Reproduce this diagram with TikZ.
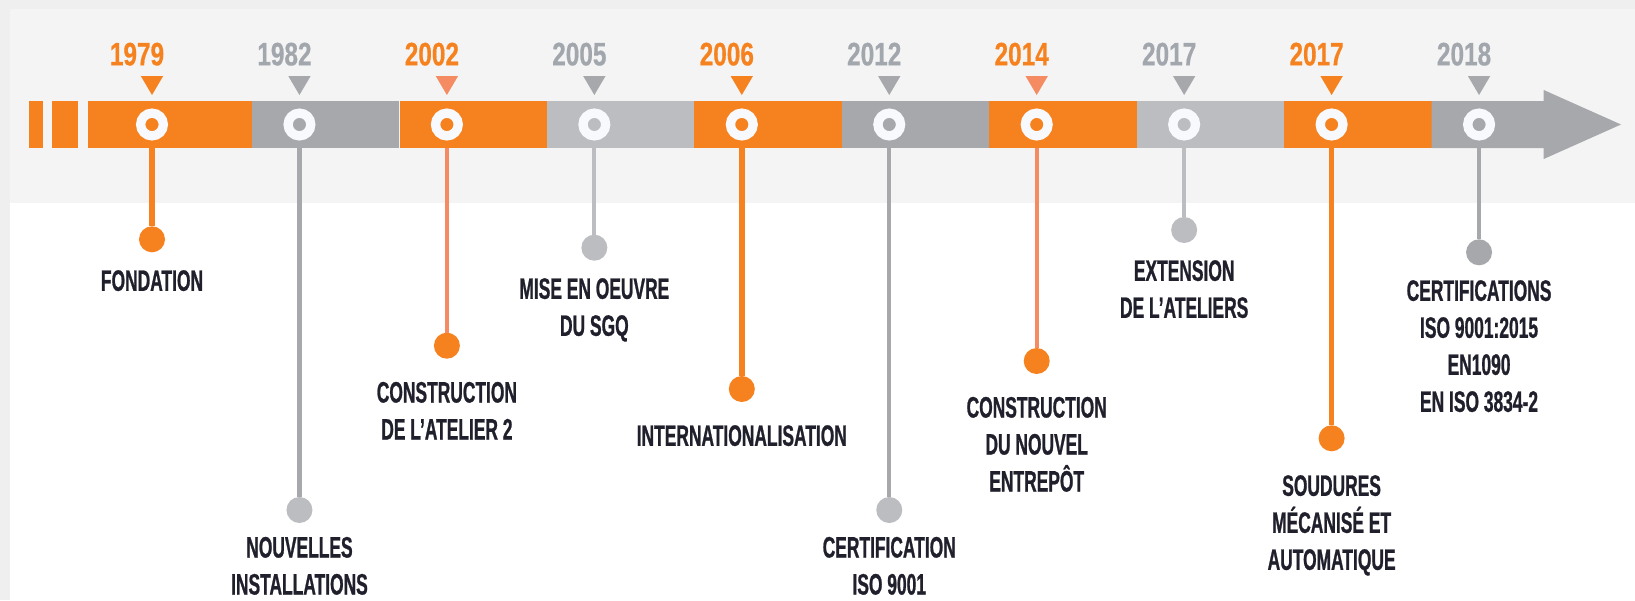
\documentclass[tikz,border=0pt]{standalone}
\usepackage{fontspec}
\newfontfamily\labfont{Liberation Sans}[FakeStretch=0.59, FakeBold=0.8]
\newfontfamily\yrfont{Liberation Sans}[FakeStretch=0.75, FakeBold=0.5]
\definecolor{org}{HTML}{F5821F}
\definecolor{sal}{HTML}{F58B63}
\definecolor{dgr}{HTML}{A7A8AB}
\definecolor{lgr}{HTML}{BCBDC0}
\definecolor{ygr}{HTML}{A2A6AD}
\definecolor{ink}{HTML}{20202C}
\definecolor{ringw}{HTML}{F8F9FC}
\definecolor{bgo}{HTML}{EFEFEF}
\definecolor{bgb}{HTML}{F4F4F4}
\begin{document}
\begin{tikzpicture}[x=1pt,y=-1pt,
  yearlbl/.style={font=\yrfont\bfseries\fontsize{32.5}{32.5}\selectfont, anchor=north, inner sep=0pt},
  evlbl/.style={font=\labfont\bfseries\fontsize{29.5}{37}\selectfont, text=ink, anchor=north, inner sep=0pt, align=center},
  dotnode/.style={circle, fill=#1, minimum size=26pt, inner sep=0pt},
  ring/.style={circle, draw=ringw, line width=9.3pt, minimum size=22.7pt, inner sep=0pt},
  stem/.style={draw=#1},
  segbar/.style={fill=#1},
]
\useasboundingbox (0,0) rectangle (1635,600);
% background
\fill[bgo] (0,0) rectangle (1635,600);
\fill[bgb] (10,9) rectangle (1635,203);
\fill[white] (10,203) rectangle (1635,600);
% small leading blocks
\fill[org] (28.6,101) rectangle (43.2,148);
\fill[org] (52.1,101) rectangle (77.9,148);
\foreach \i/\yr/\yc/\tc/\sc/\lc/\lw/\dc/\dy/\ty/\txt in {
  0/1979/org/org/org/org/5.5/org/239.3/270/{FONDATION},
  1/1982/ygr/dgr/dgr/dgr/4.3/lgr/510/536.7/{NOUVELLES\\INSTALLATIONS},
  2/2002/org/sal/org/sal/4.3/org/345.7/381.7/{CONSTRUCTION\\DE L’ATELIER 2},
  3/2005/ygr/dgr/lgr/lgr/4.0/lgr/247.7/278/{MISE EN OEUVRE\\DU SGQ},
  4/2006/org/org/org/org/5.5/org/389/425/{INTERNATIONALISATION},
  5/2012/ygr/dgr/dgr/dgr/4.3/lgr/510/536.7/{CERTIFICATION\\ISO 9001},
  6/2014/org/sal/org/sal/4.3/org/361/396.7/{CONSTRUCTION\\DU NOUVEL\\ENTREPÔT},
  7/2017/ygr/dgr/lgr/lgr/4.0/lgr/230/260/{EXTENSION\\DE L’ATELIERS},
  8/2017/org/org/org/org/5.5/org/438.3/475/{SOUDURES\\MÉCANISÉ ET\\AUTOMATIQUE},
  9/2018/ygr/dgr/dgr/dgr/4.3/dgr/252.3/280/{CERTIFICATIONS\\ISO 9001:2015\\EN1090\\EN ISO 3834-2}}
{
  \pgfmathsetmacro\x{152+147.45*\i}
  \pgfmathsetmacro\xl{\i==0 ? 88.2 : \x-47.4}
  \pgfmathsetmacro\xr{\x+100}
  % stem and dot
  \coordinate (b\i) at (\x,147);
  \node[dotnode=\dc] (d\i) at (\x,\dy) {};
  \draw[stem=\lc, line width=\lw pt] (b\i) -- (d\i);
  % bar segment
  \ifnum\i<9
    \fill[segbar=\sc] (\xl,101) rectangle (\xr,148);
  \else
    \fill[segbar=\sc] (\xl,101) -- (1543.7,101) -- (1543.7,90) -- (1621,124.5)
      -- (1543.7,159) -- (1543.7,148) -- (\xl,148) -- cycle;
  \fi
  % ring
  \node[ring] (r\i) at (\x,124.5) {};
  % triangle marker
  \fill[\tc] (\x-11.2,76) -- (\x+11.2,76) -- (\x,95) -- cycle;
  % year
  \node[yearlbl, text=\yc] (y\i) at (\x-15,42.5) {\yr};
  % label
  \node[evlbl] (t\i) at (\x,\ty) {\txt};
}
\end{tikzpicture}
\end{document}
